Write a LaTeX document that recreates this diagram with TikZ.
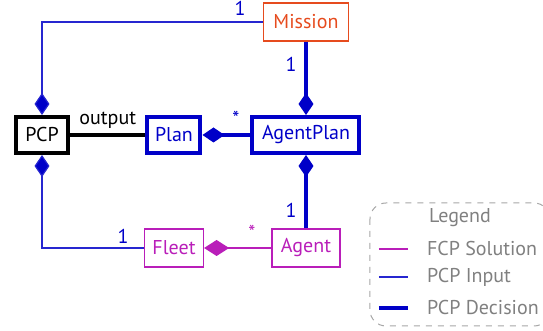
\documentclass[tikz,border=0pt]{standalone}
\usepackage{fontspec}
\setmainfont{PT Sans}
\usepackage{tikz}
\usetikzlibrary{arrows.meta}
\usepackage[dvipsnames]{xcolor}

\definecolor{pcpblue}{RGB}{0,0,200}
\definecolor{fcpmagenta}{RGB}{185,30,185}
\definecolor{missionred}{RGB}{230,75,30}

\begin{document}
\begin{tikzpicture}[x=0.5pt, y=-0.5pt,
    inputbox/.style={draw=missionred, text=missionred, line width=0.6pt, minimum height=19pt},
    decisionbox/.style={draw=pcpblue, text=pcpblue, line width=2pt, minimum height=18pt},
    solutionbox/.style={draw=fcpmagenta, text=fcpmagenta, line width=0.6pt, minimum height=19pt},
    pcpin/.style={draw=pcpblue!85!white, line width=0.6pt},
    pcpdec/.style={draw=pcpblue, line width=2pt},
    fcpsol/.style={draw=fcpmagenta, line width=0.6pt},
    comp/.style={-{Diamond[length=11pt, width=7.5pt, fill=pcpblue]}},
    mult/.style={text=pcpblue, font=\normalsize}]
    \useasboundingbox (0,0) rectangle (543,331);

    % Draw the classes
    \node[draw, line width=2pt, minimum width=26pt, minimum height=18pt] (pcp) at (42,135) {PCP};
    \node[inputbox, minimum width=42.5pt] (mission) at (306,22) {Mission};
    \node[decisionbox, minimum width=26.5pt] (plan) at (174,135) {Plan};
    \node[decisionbox, minimum width=53.5pt] (agentplan) at (306,135) {AgentPlan};
    \node[solutionbox, minimum width=29.5pt] (fleet) at (174,248) {Fleet};
    \node[solutionbox, minimum width=34pt] (agent) at (306,248) {Agent};

    % Draw the associations
    \draw[pcpin, comp] (mission.west) -| (pcp.north);
    \node[mult] (m1) at (240,8) {1};
    \draw[pcpdec, comp] (mission.south) -- (agentplan.north);
    \node[mult] (m2) at (291,64) {1};
    \draw[line width=2pt] (pcp.east) -- (plan.west) node[midway, above, yshift=-1pt] (out) {output};
    \draw[pcpdec, comp] (agentplan.west) -- (plan.east);
    \node[mult] (m3) at (236,118) {*};
    \draw[pcpdec, comp] (agent.north) -- (agentplan.south);
    \node[mult] (m4) at (291,210) {1};
    \draw[pcpin, comp] (fleet.west) -| (pcp.south);
    \node[mult] (m5) at (123,236) {1};
    \draw[fcpsol, -{Diamond[length=12.5pt, width=8pt]}] (agent.west) -- (fleet.east);
    \node[text=fcpmagenta] (m6) at (252,232) {*};

    % Draw the legend
    \draw[gray!70, dashed, rounded corners=8pt, line width=0.5pt] (370,203) rectangle (550,326);
    \node[text=gray] (legend) at (460,218) {Legend};
    \draw[fcpsol] (379,249) -- (408,249);
    \node[text=gray, anchor=west] (lsol) at (420,249) {FCP Solution};
    \draw[pcpin] (379,277) -- (408,277);
    \node[text=gray, anchor=west] (linp) at (420,277) {PCP Input};
    \draw[pcpdec] (379,308) -- (408,308);
    \node[text=gray, anchor=west] (ldec) at (420,308) {PCP Decision};
\end{tikzpicture}
\end{document}
